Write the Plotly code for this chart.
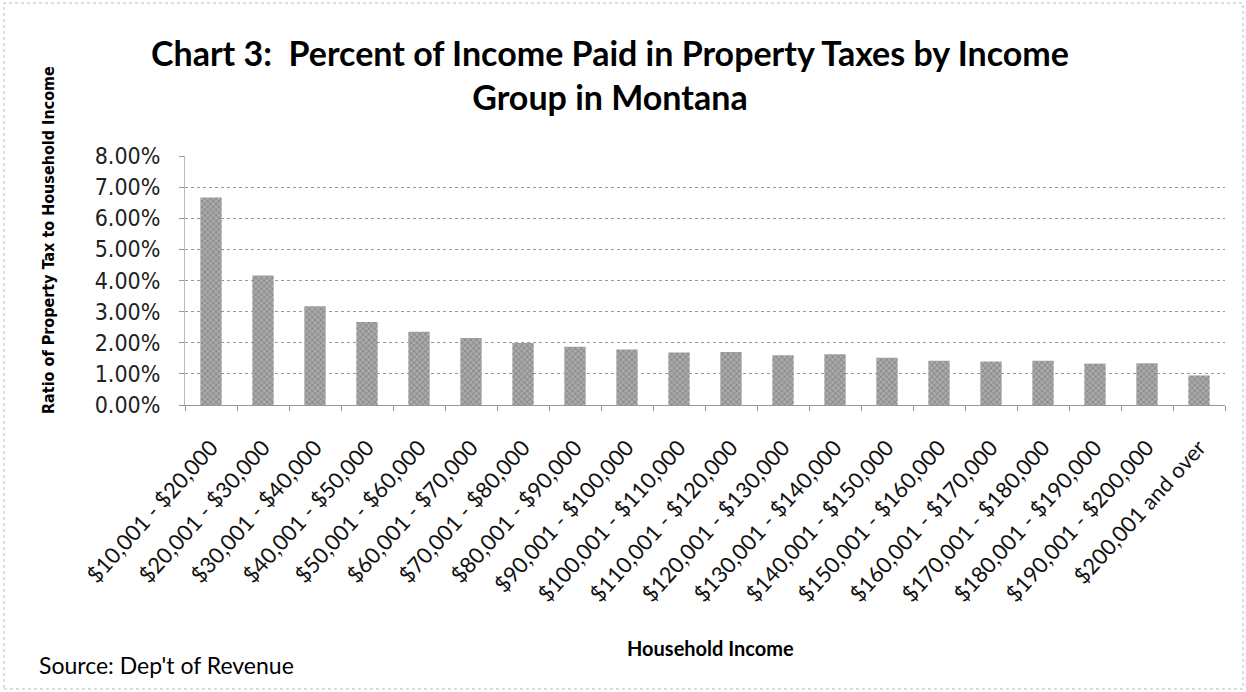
import plotly.graph_objects as go

categories = [
    "$10,001 - $20,000", "$20,001 - $30,000", "$30,001 - $40,000", "$40,001 - $50,000",
    "$50,001 - $60,000", "$60,001 - $70,000", "$70,001 - $80,000", "$80,001 - $90,000",
    "$90,001 - $100,000", "$100,001 - $110,000", "$110,001 - $120,000", "$120,001 - $130,000",
    "$130,001 - $140,000", "$140,001 - $150,000", "$150,001 - $160,000", "$160,001 - $170,000",
    "$170,001 - $180,000", "$180,001 - $190,000", "$190,001 - $200,000", "$200,001 and over",
]
ratio_pct = [6.67, 4.16, 3.17, 2.67, 2.35, 2.15, 1.99, 1.87, 1.78, 1.69,
             1.70, 1.60, 1.63, 1.52, 1.42, 1.40, 1.42, 1.33, 1.34, 0.95]
ratio = [v / 100 for v in ratio_pct]
y_ticks = [0, 0.01, 0.02, 0.03, 0.04, 0.05, 0.06, 0.07, 0.08]

title_text = "Chart 3:  Percent of Income Paid in Property Taxes by Income<br>Group in Montana"
y_title = "Ratio of Property Tax to Household Income"
x_title = "Household Income"
source_text = "Source: Dep't of Revenue"

# plot area in pixels: x 185..1225, y 156..405
def py(ypix):
    return (405 - ypix) / 249.0

def px(xpix):
    return (xpix - 185) / 1040.0

fig = go.Figure()
fig.add_trace(go.Bar(
    x=categories, y=ratio,
    marker=dict(color="#a9a9a9", line=dict(width=0),
                pattern=dict(shape="x", fgcolor="#5a5a5a", size=4, solidity=0.35)),
))

fig.update_layout(
    width=1246, height=692,
    margin=dict(l=185, r=21, t=156, b=287),
    paper_bgcolor="white", plot_bgcolor="white",
    showlegend=False, bargap=0.59,
    font=dict(family="Lato", color="black"),
)
fig.update_xaxes(
    type="category", tickangle=-48, tickfont=dict(family="Lato", size=22, color="#111"),
    ticks="outside", tickson="boundaries", ticklen=5, tickcolor="#999",
    ticklabelstandoff=20,
    showline=True, linecolor="#999", linewidth=1, showgrid=False,
)
fig.update_yaxes(
    range=[0, 0.08], tickvals=y_ticks, tickformat=".2%",
    tickfont=dict(family="Liberation Sans Narrow, DejaVu Sans Condensed, DejaVu Sans",
                  size=23, color="#222"),
    ticks="outside", ticklen=5, tickcolor="#999", ticklabelstandoff=14,
    showline=True, linecolor="#bbb", linewidth=1,
    showgrid=True, gridcolor="#999", griddash="dot", gridwidth=1,
    zeroline=False,
)

fig.add_annotation(text="<b>" + title_text.replace("<br>", "</b><br><b>") + "</b>",
                   xref="paper", yref="paper", x=px(610), y=py(30),
                   xanchor="center", yanchor="top", showarrow=False,
                   font=dict(family="Lato", size=34, color="black"))
fig.add_annotation(text="<b>" + y_title + "</b>", textangle=-90,
                   xref="paper", yref="paper", x=px(48), y=py(240),
                   xanchor="center", yanchor="middle", showarrow=False,
                   font=dict(family="DejaVu Sans Condensed, DejaVu Sans", size=16, color="black"))
fig.add_annotation(text="<b>" + x_title + "</b>",
                   xref="paper", yref="paper", x=px(710), y=py(648),
                   xanchor="center", yanchor="middle", showarrow=False,
                   font=dict(family="Lato", size=20, color="black"))
fig.add_annotation(text=source_text,
                   xref="paper", yref="paper", x=px(37), y=py(665),
                   xanchor="left", yanchor="middle", showarrow=False,
                   font=dict(family="Lato", size=23, color="black"))

fig.add_shape(type="rect", xref="paper", yref="paper",
              x0=px(4), x1=px(1243), y0=py(689), y1=py(3),
              line=dict(color="#bbbbbb", width=1, dash="dot"), layer="below")

fig.write_html("out.html")
